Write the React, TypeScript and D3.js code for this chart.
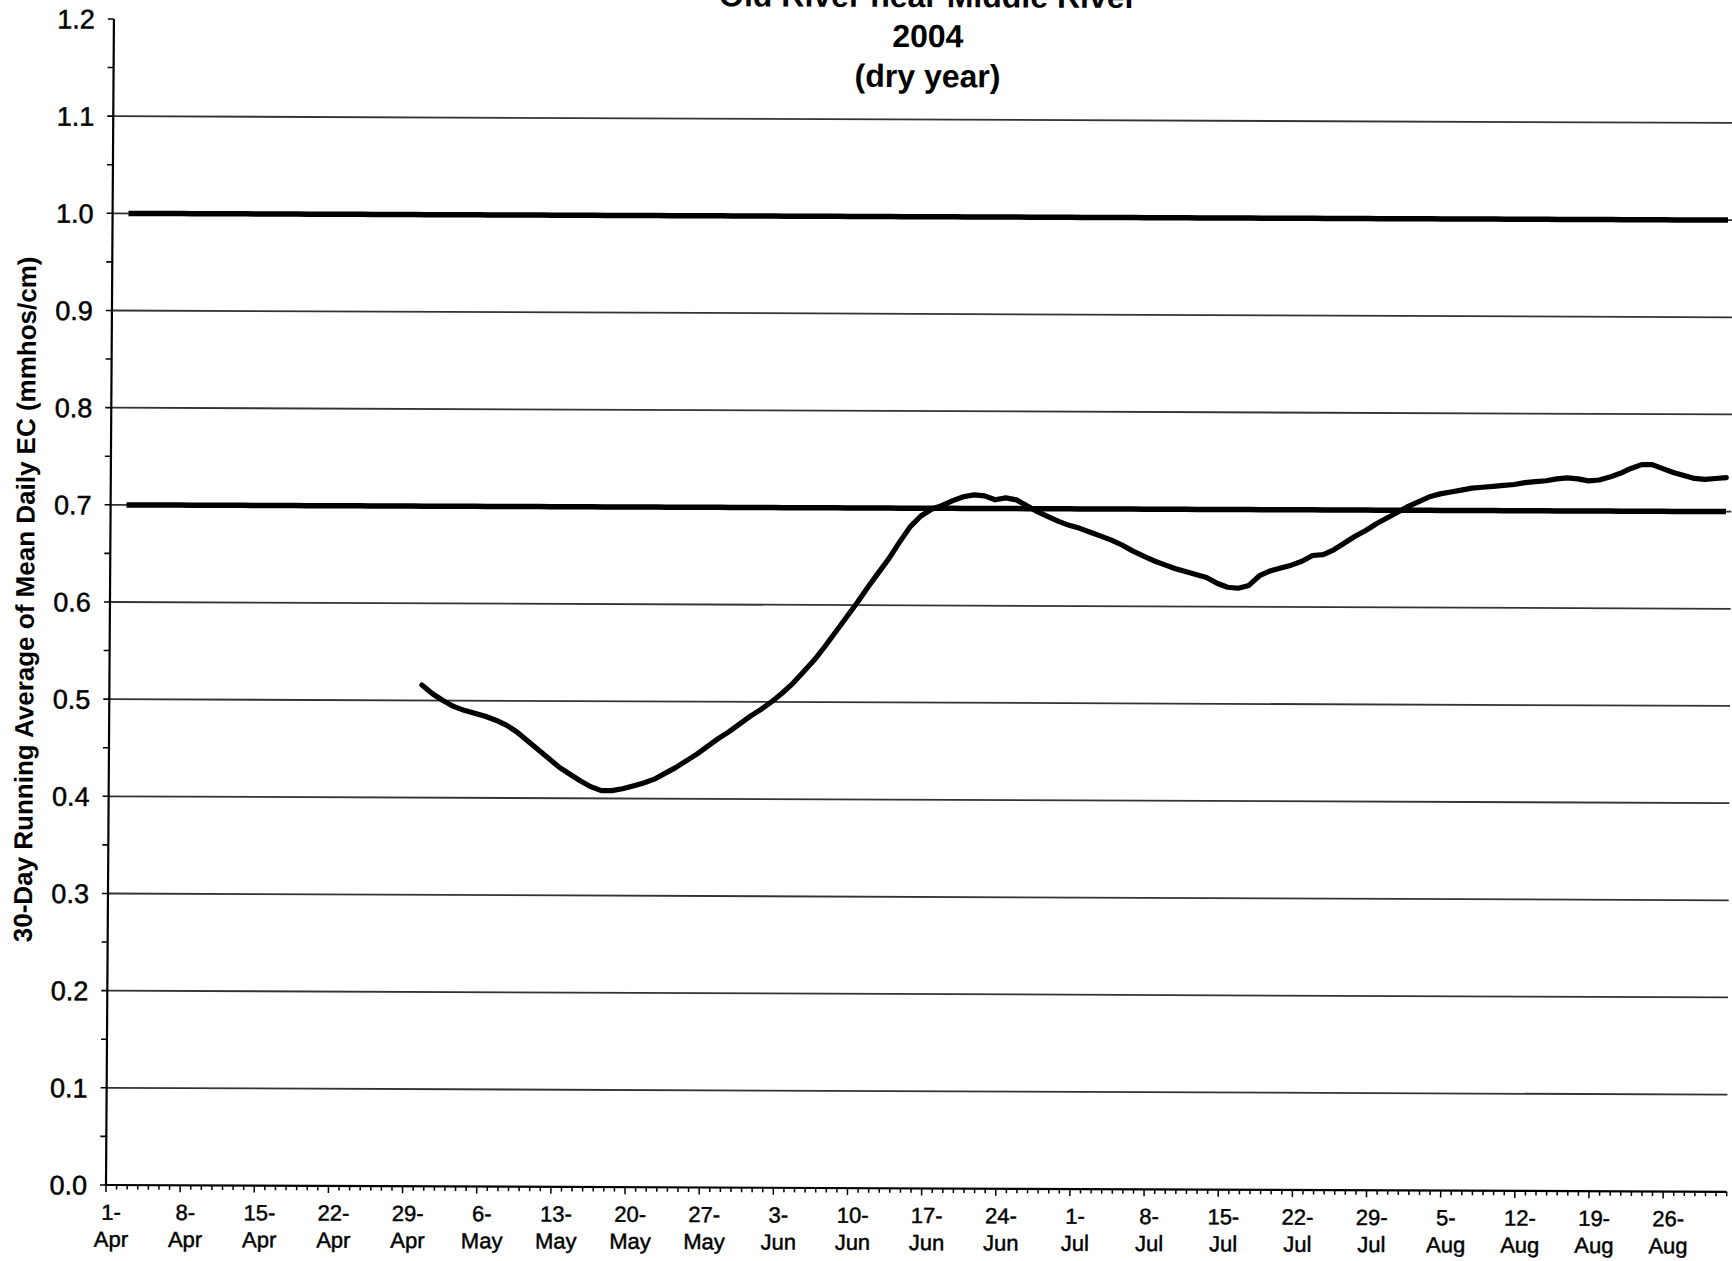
import React from 'react';
import * as d3 from 'd3';

// ---------- data ----------
const TITLE_LINES = ['Old River near Middle River', '2004', '(dry year)'];
const Y_AXIS_TITLE = '30-Day Running Average of Mean Daily EC (mmhos/cm)';

const FIRST_DAY = '2004-04-01';
const LAST_DAY = '2004-08-31';

const X_LABEL_DATES = [
  '2004-04-01', '2004-04-08', '2004-04-15', '2004-04-22', '2004-04-29',
  '2004-05-06', '2004-05-13', '2004-05-20', '2004-05-27',
  '2004-06-03', '2004-06-10', '2004-06-17', '2004-06-24',
  '2004-07-01', '2004-07-08', '2004-07-15', '2004-07-22', '2004-07-29',
  '2004-08-05', '2004-08-12', '2004-08-19', '2004-08-26',
];

const Y_TICKS = [0.0, 0.1, 0.2, 0.3, 0.4, 0.5, 0.6, 0.7, 0.8, 0.9, 1.0, 1.1, 1.2];
const GRID_VALUES = [0.1, 0.2, 0.3, 0.4, 0.5, 0.6, 0.7, 0.8, 0.9, 1.0, 1.1];

// EC standards (horizontal objective lines)
const STANDARD_VALUES = [1.0, 0.7];
const STANDARD_START = '2004-04-02';
const STANDARD_END = '2004-08-31';

// 30-day running average EC, daily from 30-Apr to 31-Aug
const EC_START = '2004-04-30';
const EC_VALUES = [
  0.516, 0.507, 0.500, 0.494, 0.490, 0.487, 0.484, 0.480, 0.475, 0.468,
  0.459, 0.450, 0.441, 0.432, 0.425, 0.418, 0.412, 0.408, 0.408, 0.410,
  0.413, 0.416, 0.420, 0.426, 0.432, 0.439, 0.446, 0.454, 0.462, 0.469,
  0.477, 0.485, 0.492, 0.500, 0.509, 0.519, 0.531, 0.543, 0.557, 0.572,
  0.587, 0.602, 0.618, 0.633, 0.648, 0.665, 0.681, 0.692, 0.699, 0.703,
  0.708, 0.712, 0.714, 0.713, 0.709, 0.711, 0.709, 0.703, 0.697, 0.692,
  0.687, 0.683, 0.680, 0.676, 0.672, 0.668, 0.663, 0.657, 0.652, 0.647,
  0.643, 0.639, 0.636, 0.633, 0.630, 0.624, 0.620, 0.619, 0.622, 0.632,
  0.637, 0.640, 0.643, 0.647, 0.653, 0.654, 0.659, 0.666, 0.673, 0.679,
  0.686, 0.692, 0.698, 0.704, 0.709, 0.714, 0.717, 0.719, 0.721, 0.723,
  0.724, 0.725, 0.726, 0.727, 0.729, 0.730, 0.731, 0.733, 0.734, 0.733,
  0.731, 0.732, 0.735, 0.739, 0.744, 0.748, 0.748, 0.744, 0.740, 0.737,
  0.734, 0.733, 0.734, 0.735,
];

// ---------- layout ----------
const W = 1732;
const H = 1261;
const PLOT_LEFT = 110;
const PLOT_RIGHT = 1730.7;
const PLOT_BOTTOM = 1188.3;
const PLOT_TOP = 22.3;
const FONT = '"Liberation Sans", Arial, Helvetica, sans-serif';
// slight scan skew of the original page
const SKEW_B = 0.0042;
const SKEW_C = 0.0068;
const SKEW_CX = 900;
const SKEW_CY = 600;

const parse = d3.timeParse('%Y-%m-%d');
const key = d3.timeFormat('%Y-%m-%d');

export default function App() {
  const first = parse(FIRST_DAY) as Date;
  const last = parse(LAST_DAY) as Date;
  const days = d3.timeDay.range(first, d3.timeDay.offset(last, 1)).map(key);

  const x = d3.scaleBand<string>().domain(days).range([PLOT_LEFT, PLOT_RIGHT]).paddingInner(0).paddingOuter(0);
  const bw = x.bandwidth();
  const cx = (k: string) => (x(k) as number) + bw / 2;
  const y = d3.scaleLinear().domain([0, 1.2]).range([PLOT_BOTTOM, PLOT_TOP]);

  const ecStart = parse(EC_START) as Date;
  const ecData = EC_VALUES.map((v, i) => ({ d: key(d3.timeDay.offset(ecStart, i)), v }));

  const stdDays = d3.timeDay
    .range(parse(STANDARD_START) as Date, d3.timeDay.offset(parse(STANDARD_END) as Date, 1))
    .map(key);

  const line = d3
    .line<{ d: string; v: number }>()
    .x((p) => cx(p.d))
    .y((p) => y(p.v));

  const yMinor = d3.range(0, 24 + 1).map((i) => i * 0.05);

  const fmtDay = d3.timeFormat('%-d-');
  const fmtMon = d3.timeFormat('%b');

  const matrix = `matrix(1 ${SKEW_B} ${-SKEW_C} 1 ${SKEW_C * SKEW_CY} ${-SKEW_B * SKEW_CX})`;

  return (
    <svg
      width={W}
      height={H}
      viewBox={`0 0 ${W} ${H}`}
      style={{ position: 'absolute', left: 0, top: 0, background: '#fff' }}
      fontFamily={FONT}
    >
      <rect x={0} y={0} width={W} height={H} fill="#fff" />
      <g transform={matrix}>
        {/* title */}
        {TITLE_LINES.map((t, i) => (
          <text
            key={t}
            x={924}
            y={7 + i * 40}
            textAnchor="middle"
            fontSize={32}
            fontWeight="bold"
            fill="#000"
          >
            {t}
          </text>
        ))}

        {/* gridlines */}
        {GRID_VALUES.map((v) => (
          <line
            key={v}
            x1={PLOT_LEFT}
            x2={PLOT_RIGHT}
            y1={y(v)}
            y2={y(v)}
            stroke="#333"
            strokeWidth={1.8}
          />
        ))}

        {/* y axis */}
        <line x1={PLOT_LEFT} x2={PLOT_LEFT} y1={y(0)} y2={y(1.2)} stroke="#000" strokeWidth={2.2} />
        {yMinor.map((v) => (
          <line
            key={v}
            x1={PLOT_LEFT - 6}
            x2={PLOT_LEFT}
            y1={y(v)}
            y2={y(v)}
            stroke="#000"
            strokeWidth={1.6}
          />
        ))}
        {Y_TICKS.map((v) => (
          <text
            key={v}
            x={91}
            y={y(v)}
            dy="0.36em"
            textAnchor="end"
            fontSize={27}
            fill="#000"
            stroke="#000"
            strokeWidth={0.5}
          >
            {d3.format('.1f')(v)}
          </text>
        ))}

        {/* x axis */}
        <line x1={PLOT_LEFT} x2={PLOT_RIGHT} y1={y(0)} y2={y(0)} stroke="#000" strokeWidth={2.2} />
        {days.concat(['__end']).map((k, i) => {
          const px = i < days.length ? (x(k) as number) : PLOT_RIGHT;
          const len = i % 7 === 0 ? 7 : 4.5;
          return (
            <line key={k} x1={px} x2={px} y1={y(0)} y2={y(0) + len} stroke="#000" strokeWidth={1.5} />
          );
        })}
        {X_LABEL_DATES.map((s) => {
          const dt = parse(s) as Date;
          const px = cx(s);
          return (
            <g key={s} fontSize={22} fill="#000" stroke="#000" strokeWidth={0.45}>
              <text x={px} y={1223} textAnchor="middle">
                {fmtDay(dt)}
              </text>
              <text x={px} y={1250} textAnchor="middle">
                {fmtMon(dt)}
              </text>
            </g>
          );
        })}

        {/* y axis title */}
        <text
          transform="translate(34,603) rotate(-90)"
          textAnchor="middle"
          fontSize={26}
          fontWeight="bold"
          fill="#000"
        >
          {Y_AXIS_TITLE}
        </text>

        {/* standards */}
        {STANDARD_VALUES.map((v) => (
          <path
            key={v}
            d={line(stdDays.map((d) => ({ d, v }))) as string}
            fill="none"
            stroke="#000"
            strokeWidth={5.5}
          />
        ))}

        {/* EC series */}
        <path
          d={line(ecData) as string}
          fill="none"
          stroke="#000"
          strokeWidth={5.2}
          strokeLinejoin="round"
          strokeLinecap="round"
        />
      </g>
    </svg>
  );
}
